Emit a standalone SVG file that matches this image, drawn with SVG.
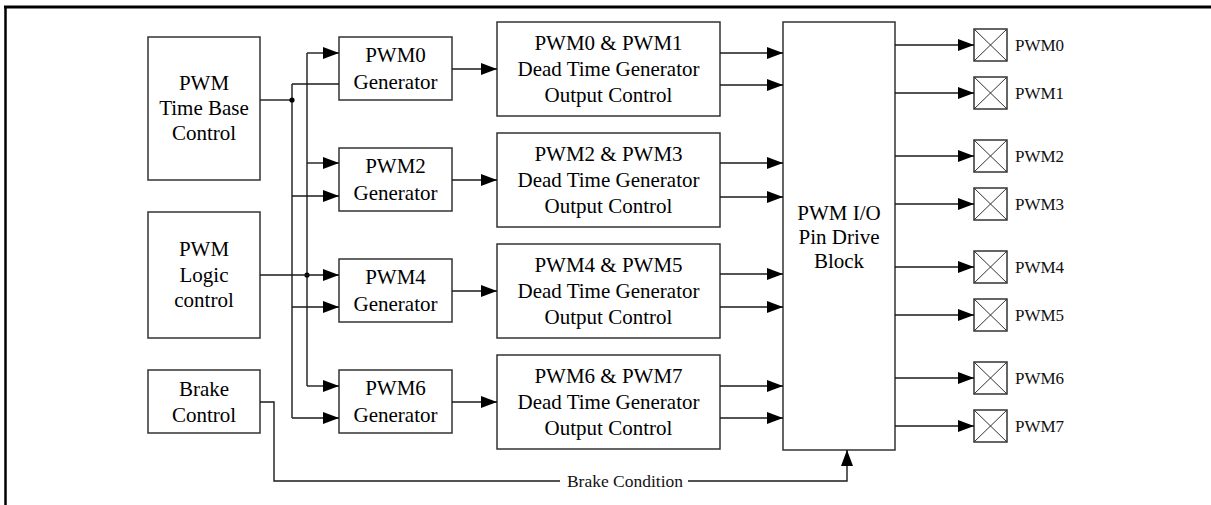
<svg xmlns="http://www.w3.org/2000/svg" width="1211" height="505" viewBox="0 0 1211 505">
<defs>
<style>
.box{fill:#fff;stroke:#333;stroke-width:1.5}
.t{font-family:"Liberation Serif","Times New Roman",serif;font-size:21px;fill:#000;text-anchor:middle}
.pl{font-family:"Liberation Serif","Times New Roman",serif;font-size:17px;fill:#111}
.bc{font-family:"Liberation Serif","Times New Roman",serif;font-size:17.5px;fill:#111;text-anchor:middle}
.ln{fill:none;stroke:#1a1a1a;stroke-width:1.4}
.arr{fill:none;stroke:#1a1a1a;stroke-width:1.4;marker-end:url(#ah)}
.pin{fill:#fff;stroke:#333;stroke-width:1.5}
.x{stroke:#333;stroke-width:1}
</style>
<marker id="ah" markerUnits="userSpaceOnUse" markerWidth="17" markerHeight="12" refX="16" refY="6" orient="auto">
<path d="M0,0 L16,6 L0,12 z" fill="#000"/>
</marker>
</defs>
<rect width="1211" height="505" fill="#fff"/>
<g id="frame">
<line x1="4" y1="7" x2="1211" y2="7" stroke="#000" stroke-width="3"/>
<line x1="5.5" y1="6" x2="5.5" y2="505" stroke="#000" stroke-width="2.5"/>
</g>

<g id="timebase">
<rect class="box" x="148" y="37" width="112" height="143"/>
<text class="t" x="204" y="90">PWM</text>
<text class="t" x="204" y="115">Time Base</text>
<text class="t" x="204" y="140">Control</text>
</g>
<g id="logic">
<rect class="box" x="148" y="212" width="112" height="126"/>
<text class="t" x="204" y="256">PWM</text>
<text class="t" x="204" y="282">Logic</text>
<text class="t" x="204" y="307">control</text>
</g>
<g id="brake">
<rect class="box" x="148" y="370" width="112" height="63"/>
<text class="t" x="204" y="396">Brake</text>
<text class="t" x="204" y="422">Control</text>
</g>

<g id="gen0">
<rect class="box" x="339" y="37" width="113" height="63"/>
<text class="t" x="395.5" y="62">PWM0</text>
<text class="t" x="395.5" y="89">Generator</text>
</g>
<g id="gen2">
<rect class="box" x="339" y="148" width="113" height="63"/>
<text class="t" x="395.5" y="173">PWM2</text>
<text class="t" x="395.5" y="200">Generator</text>
</g>
<g id="gen4">
<rect class="box" x="339" y="259" width="113" height="63"/>
<text class="t" x="395.5" y="284">PWM4</text>
<text class="t" x="395.5" y="311">Generator</text>
</g>
<g id="gen6">
<rect class="box" x="339" y="370" width="113" height="63"/>
<text class="t" x="395.5" y="395">PWM6</text>
<text class="t" x="395.5" y="422">Generator</text>
</g>

<g id="dt01">
<rect class="box" x="497" y="22" width="223" height="94"/>
<text class="t" x="608.5" y="50">PWM0 &amp; PWM1</text>
<text class="t" x="608.5" y="76">Dead Time Generator</text>
<text class="t" x="608.5" y="102">Output Control</text>
</g>
<g id="dt23">
<rect class="box" x="497" y="133" width="223" height="94"/>
<text class="t" x="608.5" y="161">PWM2 &amp; PWM3</text>
<text class="t" x="608.5" y="187">Dead Time Generator</text>
<text class="t" x="608.5" y="213">Output Control</text>
</g>
<g id="dt45">
<rect class="box" x="497" y="244" width="223" height="94"/>
<text class="t" x="608.5" y="272">PWM4 &amp; PWM5</text>
<text class="t" x="608.5" y="298">Dead Time Generator</text>
<text class="t" x="608.5" y="324">Output Control</text>
</g>
<g id="dt67">
<rect class="box" x="497" y="355" width="223" height="94"/>
<text class="t" x="608.5" y="383">PWM6 &amp; PWM7</text>
<text class="t" x="608.5" y="409">Dead Time Generator</text>
<text class="t" x="608.5" y="435">Output Control</text>
</g>

<g id="pindrive">
<rect class="box" x="783" y="22" width="112" height="428"/>
<text class="t" x="839" y="220">PWM I/O</text>
<text class="t" x="839" y="244">Pin Drive</text>
<text class="t" x="839" y="268">Block</text>
</g>

<g id="pins">
<g id="pin0"><rect class="pin" x="974" y="29" width="33" height="32"/><path class="x" d="M974,29 L1007,61 M1007,29 L974,61"/><text class="pl" x="1015" y="51">PWM0</text></g>
<g id="pin1"><rect class="pin" x="974" y="77" width="33" height="32"/><path class="x" d="M974,77 L1007,109 M1007,77 L974,109"/><text class="pl" x="1015" y="99">PWM1</text></g>
<g id="pin2"><rect class="pin" x="974" y="140" width="33" height="32"/><path class="x" d="M974,140 L1007,172 M1007,140 L974,172"/><text class="pl" x="1015" y="162">PWM2</text></g>
<g id="pin3"><rect class="pin" x="974" y="188" width="33" height="32"/><path class="x" d="M974,188 L1007,220 M1007,188 L974,220"/><text class="pl" x="1015" y="210">PWM3</text></g>
<g id="pin4"><rect class="pin" x="974" y="251" width="33" height="32"/><path class="x" d="M974,251 L1007,283 M1007,251 L974,283"/><text class="pl" x="1015" y="273">PWM4</text></g>
<g id="pin5"><rect class="pin" x="974" y="299" width="33" height="32"/><path class="x" d="M974,299 L1007,331 M1007,299 L974,331"/><text class="pl" x="1015" y="321">PWM5</text></g>
<g id="pin6"><rect class="pin" x="974" y="362" width="33" height="32"/><path class="x" d="M974,362 L1007,394 M1007,362 L974,394"/><text class="pl" x="1015" y="384">PWM6</text></g>
<g id="pin7"><rect class="pin" x="974" y="410" width="33" height="32"/><path class="x" d="M974,410 L1007,442 M1007,410 L974,442"/><text class="pl" x="1015" y="432">PWM7</text></g>
</g>

<g id="connectors">
<!-- bus -->
<path class="ln" d="M260,100 H292"/>
<path class="ln" d="M292,84 V418"/>
<path class="ln" d="M307,53 V386"/>
<circle cx="292" cy="100" r="2.6" fill="#000"/>
<circle cx="307" cy="275" r="2.6" fill="#000"/>
<path class="arr" d="M307,53 H339"/>
<path class="ln" d="M292,84 H339"/>
<path class="arr" d="M307,163 H339"/>
<path class="arr" d="M292,196 H339"/>
<path class="arr" d="M260,275 H339"/>
<path class="arr" d="M292,307 H339"/>
<path class="arr" d="M307,386 H339"/>
<path class="arr" d="M292,418 H339"/>
<!-- gen to dead time -->
<path class="arr" d="M452,69 H497"/>
<path class="arr" d="M452,180 H497"/>
<path class="arr" d="M452,291 H497"/>
<path class="arr" d="M452,402 H497"/>
<!-- dead time to pin drive -->
<path class="arr" d="M720,53 H783"/>
<path class="arr" d="M720,85 H783"/>
<path class="arr" d="M720,163 H783"/>
<path class="arr" d="M720,197 H783"/>
<path class="arr" d="M720,274 H783"/>
<path class="arr" d="M720,307 H783"/>
<path class="arr" d="M720,386 H783"/>
<path class="arr" d="M720,418 H783"/>
<!-- pin drive to pins -->
<path class="arr" d="M895,45 H974"/>
<path class="arr" d="M895,93 H974"/>
<path class="arr" d="M895,156 H974"/>
<path class="arr" d="M895,204 H974"/>
<path class="arr" d="M895,267 H974"/>
<path class="arr" d="M895,315 H974"/>
<path class="arr" d="M895,378 H974"/>
<path class="arr" d="M895,426 H974"/>
<!-- brake condition -->
<path class="ln" d="M260,402 H274 V481 H560"/>
<path class="arr" d="M688,481 H847 V450"/>
<text class="bc" x="625" y="487">Brake Condition</text>
</g>
</svg>
